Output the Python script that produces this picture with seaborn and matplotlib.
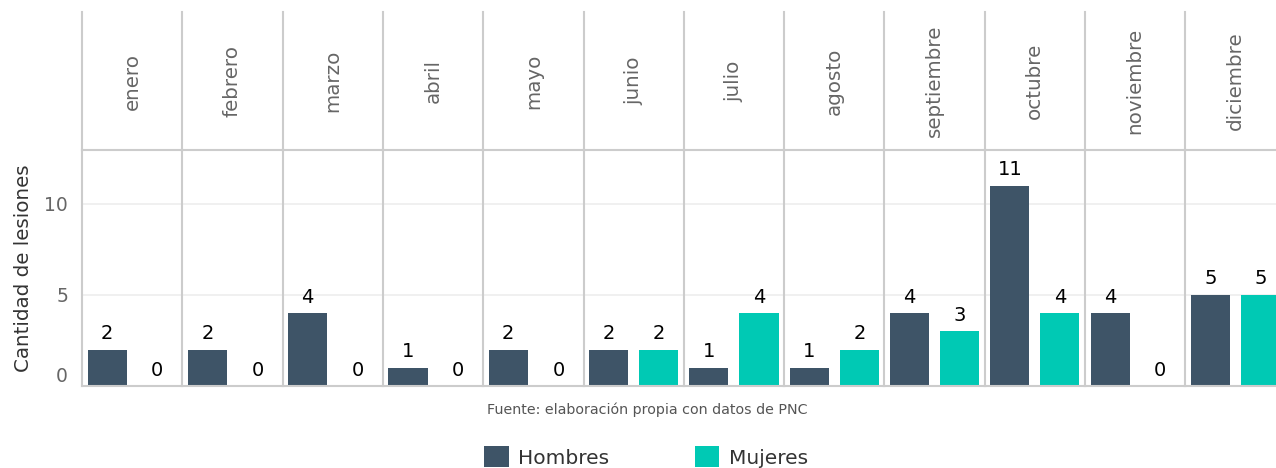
import matplotlib
matplotlib.use("Agg")
import matplotlib.pyplot as plt
import matplotlib.transforms as mtransforms
from matplotlib.patches import Patch
import seaborn as sns
import pandas as pd

# Monthly injury counts by sex
meses = ["enero", "febrero", "marzo", "abril", "mayo", "junio", "julio",
         "agosto", "septiembre", "octubre", "noviembre", "diciembre"]
hombres = [2, 2, 4, 1, 2, 2, 1, 1, 4, 11, 4, 5]
mujeres = [0, 0, 0, 0, 0, 2, 4, 2, 3, 4, 0, 5]
sexos = ["Hombres", "Mujeres"]
y_ticks = [0, 5, 10]

colores = {"Hombres": "#3e5467", "Mujeres": "#00c9b4"}
linea = "#cccccc"

df = pd.DataFrame({
    "mes": meses * 2,
    "sexo": ["Hombres"] * len(meses) + ["Mujeres"] * len(meses),
    "n": hombres + mujeres,
})

sns.set_theme(style="white")
plt.rcParams["font.family"] = ["DejaVu Sans"]

W, H = 1276, 468
fig = plt.figure(figsize=(W / 100, H / 100), dpi=100)

left_px, panel_w = 82, 100.3
strip_top, panel_top, panel_bot = 12, 150, 386

for i, mes in enumerate(meses):
    x0 = left_px + i * panel_w
    # panel with bars
    ax = fig.add_axes([x0 / W, 1 - panel_bot / H, panel_w / W, (panel_bot - panel_top) / H])
    sub = df[df["mes"] == mes]
    sns.barplot(data=sub, x="sexo", y="n", hue="sexo", order=sexos, hue_order=sexos,
                palette=colores, width=0.78, legend=False, ax=ax, saturation=1,
                edgecolor="none", linewidth=0)
    ax.set_xlim(-0.5, 1.5)
    ax.set_ylim(0, 12.95)
    ax.set_yticks(y_ticks)
    ax.yaxis.grid(True, color="#ededed", lw=1.2)
    ax.set_axisbelow(True)
    ax.set_xticks([])
    ax.set_xlabel("")
    for s in ["left", "bottom", "top"]:
        ax.spines[s].set_color(linea)
        ax.spines[s].set_linewidth(1.5)
    ax.spines["right"].set_visible(False)
    for j, sx in enumerate(sexos):
        v = int(sub.loc[sub["sexo"] == sx, "n"].iloc[0])
        ax.annotate(str(v), (j, v), xytext=(0, 11.5), textcoords="offset points",
                    ha="center", va="center", fontsize=14, color="black")
    if i == 0:
        ax.tick_params(axis="y", length=0, pad=10, labelsize=13.5, labelcolor="#666666")
        ax.set_ylabel("Cantidad de lesiones", fontsize=14.3, color="#333333", labelpad=8)
        fig.canvas.draw()
        # lift the zero label off the baseline
        lbl0 = ax.get_yticklabels()[0]
        lbl0.set_transform(lbl0.get_transform() +
                           mtransforms.ScaledTranslation(0, 8 / 72, fig.dpi_scale_trans))
    else:
        ax.set_yticklabels([])
        ax.tick_params(axis="y", length=0)
        ax.set_ylabel("")

    # facet strip with rotated month name
    st = fig.add_axes([x0 / W, 1 - panel_top / H, panel_w / W, (panel_top - strip_top) / H])
    st.set_xticks([])
    st.set_yticks([])
    st.patch.set_alpha(0)
    for s in ["top", "right", "bottom"]:
        st.spines[s].set_visible(False)
    st.spines["left"].set_color(linea)
    st.spines["left"].set_linewidth(1.5)
    st.text(0.5, 0.5, mes, rotation=90, ha="center", va="center",
            fontsize=14.3, color="#666666", transform=st.transAxes)

fig.text(647 / W, 1 - 410 / H, "Fuente: elaboración propia con datos de PNC",
         ha="center", va="center", fontsize=10.3, color="#555555")

handles = [Patch(facecolor=colores[s], edgecolor="none", label=s) for s in sexos]
fig.legend(handles=handles, loc="center", bbox_to_anchor=(646 / W, 1 - 457 / H),
           ncol=2, frameon=False, fontsize=14.5, handlelength=1.2, handleheight=1.2,
           handletextpad=0.45, columnspacing=4.3, labelcolor="#333333")

fig.savefig("out.png", dpi=100)
